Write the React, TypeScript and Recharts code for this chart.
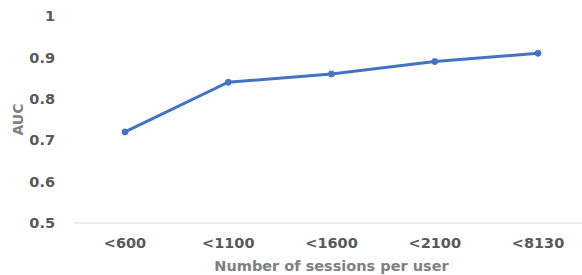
import React from 'react';
import { LineChart, Line, XAxis, YAxis, Label } from 'recharts';

const categories = ['<600', '<1100', '<1600', '<2100', '<8130'];
const aucValues = [0.72, 0.84, 0.86, 0.89, 0.91];
const yTicks = [0.5, 0.6, 0.7, 0.8, 0.9, 1];

const data = categories.map((c, i) => ({ name: c, auc: aucValues[i] }));

const FONT = '"DejaVu Sans", sans-serif';

const AucLabel = (props: any) => {
  const vb = props.viewBox || {};
  const cx = 18;
  const cy = vb.y + vb.height / 2;
  return (
    <text
      x={cx}
      y={cy}
      transform={`rotate(-90 ${cx} ${cy})`}
      textAnchor="middle"
      dominantBaseline="central"
      fill="#808080"
      fontFamily={FONT}
      fontWeight="bold"
      fontSize={14}
    >
      AUC
    </text>
  );
};

const XTitle = (props: any) => {
  const vb = props.viewBox || {};
  const cx = vb.x + vb.width / 2;
  return (
    <text
      x={cx}
      y={266}
      textAnchor="middle"
      dominantBaseline="central"
      fill="#808080"
      fontFamily={FONT}
      fontWeight="bold"
      fontSize={14.5}
    >
      Number of sessions per user
    </text>
  );
};

export default function App() {
  return (
    <div style={{ position: 'absolute', left: 0, top: 0, width: 582, height: 275, overflow: 'hidden', background: '#fff' }}>
      <LineChart width={600} height={275} data={data} margin={{ top: 16, right: 11, bottom: 0, left: 0 }}>
        <XAxis
          dataKey="name"
          height={52}
          padding={{ left: 51, right: 51 }}
          axisLine={{ stroke: '#d9d9d9', strokeWidth: 1 }}
          tickLine={false}
          tickSize={0}
          tickMargin={15}
          tick={{ fill: '#595959', fontFamily: FONT, fontWeight: 'bold', fontSize: 14.5 }}
          interval={0}
        >
          <Label content={<XTitle />} />
        </XAxis>
        <YAxis
          type="number"
          domain={[0.5, 1]}
          ticks={yTicks}
          width={74}
          axisLine={false}
          tickLine={false}
          tickSize={0}
          tickMargin={19}
          tick={{ fill: '#595959', fontFamily: FONT, fontWeight: 'bold', fontSize: 14.5 }}
          interval={0}
        >
          <Label content={<AucLabel />} />
        </YAxis>
        <Line
          type="linear"
          dataKey="auc"
          stroke="#4472C4"
          strokeWidth={3}
          dot={{ r: 3, fill: '#4472C4', stroke: '#4472C4', strokeWidth: 1 }}
          activeDot={false}
          isAnimationActive={false}
        />
      </LineChart>
    </div>
  );
}
